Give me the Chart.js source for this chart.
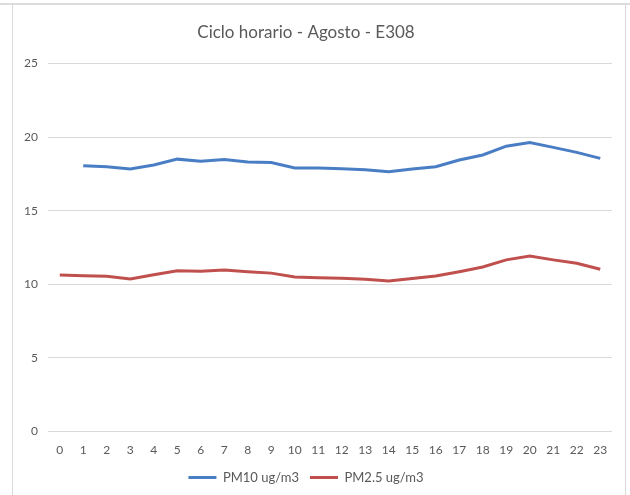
<!DOCTYPE html>
<html>
<head>
<meta charset="utf-8">
<script src="https://cdn.jsdelivr.net/npm/chart.js@4.4.1/dist/chart.umd.min.js"></script>
<style>
  html, body { margin: 0; padding: 0; background: #fff; }
  #topline { position: absolute; left: 0; top: 3px; width: 630px; height: 2px; background: #dcdcdc; }
  #frame { position: absolute; left: 12px; top: 5px; width: 612px; height: 495px;
           border-left: 1px solid #d9d9d9; border-right: 1px solid #d9d9d9; }
  #wrap { position: absolute; left: 0; top: 0; width: 630px; height: 495px; }
</style>
</head>
<body>
<div id="topline"></div>
<div id="frame"></div>
<div id="wrap"><canvas id="chart" width="630" height="495"></canvas></div>
<script>
var hours = ["0","1","2","3","4","5","6","7","8","9","10","11","12","13","14","15","16","17","18","19","20","21","22","23"];
var pm10 = [null, 18.05, 17.98, 17.83, 18.1, 18.5, 18.36, 18.48, 18.3, 18.27, 17.9, 17.9,
            17.85, 17.78, 17.64, 17.83, 17.98, 18.44, 18.78, 19.38, 19.62, 19.3, 18.96, 18.55];
var pm25 = [10.63, 10.58, 10.54, 10.36, 10.65, 10.92, 10.88, 10.97, 10.85, 10.76, 10.49, 10.45,
            10.42, 10.35, 10.22, 10.4, 10.56, 10.86, 11.18, 11.66, 11.92, 11.66, 11.43, 11.02];
var yTicks = [0, 5, 10, 15, 20, 25];

var textColor = "#595959";
var fontFamily = "Lato, 'Open Sans', sans-serif";

var ctx = document.getElementById("chart");
var chart = new Chart(ctx, {
    type: "line",
    data: {
        labels: hours,
        datasets: [
            {
                label: "PM10 ug/m3",
                data: pm10,
                borderColor: "#4a7ec4",
                backgroundColor: "#4a7ec4",
                borderWidth: 3,
                pointRadius: 0,
                tension: 0
            },
            {
                label: "PM2.5 ug/m3",
                data: pm25,
                borderColor: "#c0504d",
                backgroundColor: "#c0504d",
                borderWidth: 3,
                pointRadius: 0,
                tension: 0
            }
        ]
    },
    options: {
        responsive: false,
        animation: false,
        devicePixelRatio: 1,
        layout: { padding: { top: 22, right: 18, left: 0, bottom: 1 } },
        plugins: {
            title: {
                display: true,
                text: "Ciclo horario - Agosto - E308",
                color: textColor,
                font: { family: fontFamily, size: 17, weight: "normal" },
                padding: { top: 0, bottom: 21 }
            },
            legend: {
                position: "bottom",
                labels: {
                    color: textColor,
                    font: { family: fontFamily, size: 13 },
                    boxWidth: 28,
                    boxHeight: 3,
                    padding: 11,
                    generateLabels: function(c) {
                        var items = Chart.defaults.plugins.legend.labels.generateLabels(c);
                        items.forEach(function(it) { it.lineWidth = 0; });
                        return items;
                    }
                }
            },
            tooltip: { enabled: false }
        },
        scales: {
            x: {
                offset: true,
                grid: { display: false },
                border: { display: false },
                ticks: {
                    color: textColor,
                    font: { family: fontFamily, size: 12 },
                    maxRotation: 0,
                    autoSkip: false,
                    padding: 3
                }
            },
            y: {
                min: 0,
                max: 25,
                afterFit: function(s) { s.width = 48; },
                afterBuildTicks: function(s) {
                    s.ticks = yTicks.map(function(v) { return { value: v }; });
                },
                grid: { color: "#d9d9d9", lineWidth: 1, drawTicks: false },
                border: { display: false },
                ticks: {
                    color: textColor,
                    font: { family: fontFamily, size: 12 },
                    padding: 10
                }
            }
        }
    }
});
</script>
</body>
</html>
